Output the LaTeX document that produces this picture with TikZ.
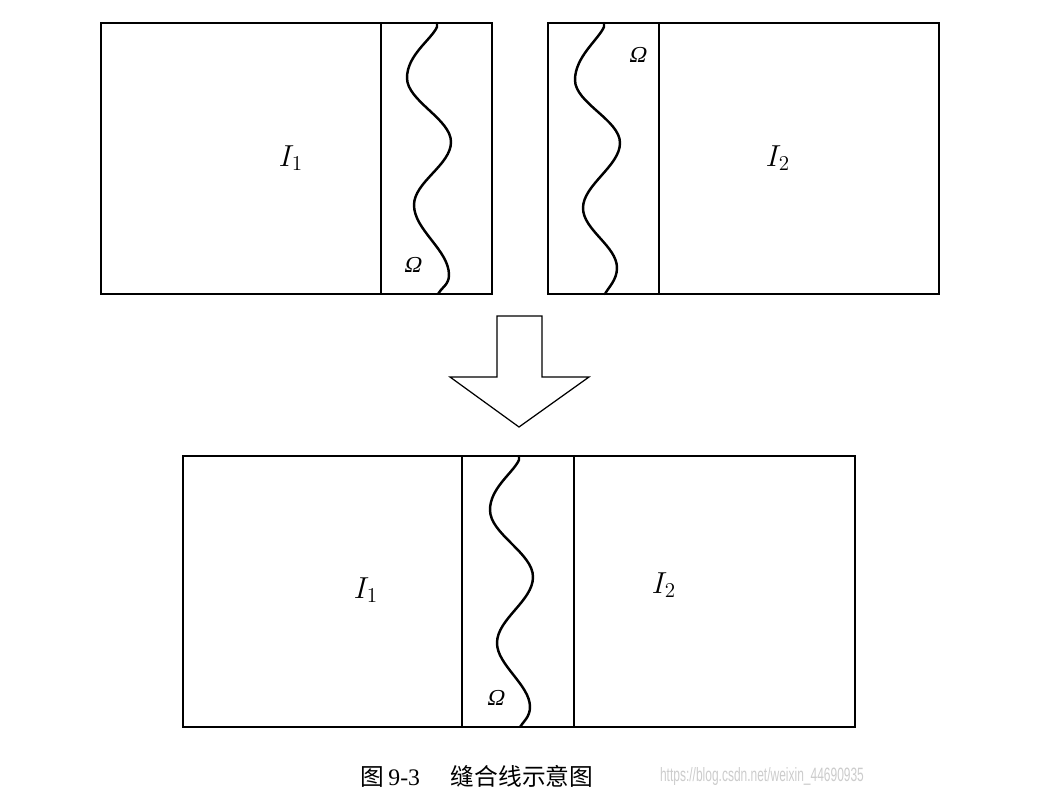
\documentclass[tikz,border=0pt]{standalone}
\usepackage{fontspec}
\setmainfont{Liberation Serif}
\newfontfamily\cjk{Noto Sans CJK SC}
\newfontfamily\wmfont{Liberation Sans}
\newfontfamily\omegafont[FakeSlant=0.22]{Liberation Serif}
\usetikzlibrary{positioning}

\begin{document}
\begin{tikzpicture}[
  x=0.02cm, y=-0.02cm,
  frame/.style={line width=1.1pt},
  seam/.style={line width=1.4pt, line cap=round},
  bigarrow/.style={line width=0.7pt, line join=miter},
  imglabel/.style={font=\fontsize{18}{18}\selectfont},
  omegalabel/.style={font=\omegafont\fontsize{13}{13}\selectfont},
  caption/.style={font=\fontsize{13.5}{13.5}\selectfont},
  watermark/.style={text=black!20, font=\wmfont\fontsize{11}{11}\selectfont},
]
  \useasboundingbox (0,0) rectangle (1046,807);

  % top left image with its overlap strip
  \draw[frame] (101,23) rectangle (492,294);
  \draw[frame] (381,23) -- (381,294);
  \draw[seam] (437,23) -- (437,27) .. controls (431,40) and (407,55) .. (407,78)
    .. controls (407,101) and (451,119) .. (451,142)
    .. controls (451,165) and (414,182) .. (414,205)
    .. controls (414,230) and (449,250) .. (449,275)
    .. controls (449,285) and (441,288) .. (438,294);
  \node[imglabel] (iOneTop) at (291,158) {$I_1$};
  \node[omegalabel] (omegaLeft) at (412,265) {Ω};

  % top right image
  \draw[frame] (548,23) rectangle (939,294);
  \draw[frame] (659,23) -- (659,294);
  \draw[seam] (604,23) -- (604,27) .. controls (598,40) and (575,57) .. (575,80)
    .. controls (575,103) and (620,120) .. (620,143)
    .. controls (620,166) and (583,185) .. (583,208)
    .. controls (583,230) and (617,246) .. (617,268)
    .. controls (617,280) and (608,288) .. (605,294);
  \node[imglabel] (iTwoTop) at (778,158) {$I_2$};
  \node[omegalabel] (omegaRight) at (637,55) {Ω};

  % arrow
  \draw[bigarrow] (497,316) -- (542,316) -- (542,377) -- (589,377) -- (519,427)
    -- (450,377) -- (497,377) -- cycle;

  % stitched result
  \draw[frame] (183,456) rectangle (855,727);
  \draw[frame] (462,456) -- (462,727);
  \draw[frame] (574,456) -- (574,727);
  \draw[seam] (519,456) -- (519,460) .. controls (513,473) and (490,488) .. (490,510)
    .. controls (490,534) and (533,553) .. (533,577)
    .. controls (533,601) and (497,619) .. (497,643)
    .. controls (497,665) and (530,685) .. (530,707)
    .. controls (530,717) and (523,722) .. (520,727);
  \node[imglabel] (iOneBot) at (366,590) {$I_1$};
  \node[imglabel] (iTwoBot) at (664,585) {$I_2$};
  \node[omegalabel] (omegaBot) at (495,698) {Ω};

  \node[caption] (figCap) at (477,776) {{\cjk 图}\,9-3\hspace{1.3em}{\cjk 缝合线示意图}};
  \node[watermark] (wm) at (762,777) {\scalebox{0.62}[1]{https://blog.csdn.net/weixin\_44690935}};
\end{tikzpicture}
\end{document}
